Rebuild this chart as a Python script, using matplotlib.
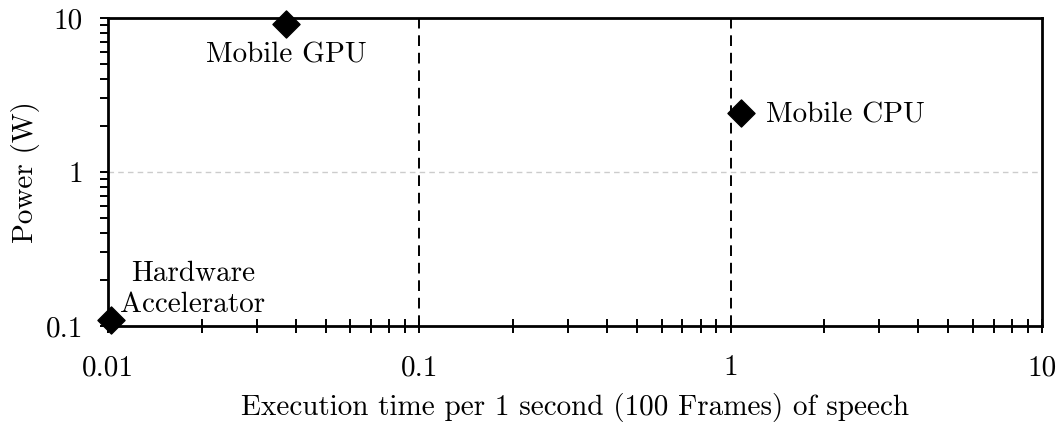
import matplotlib
matplotlib.use("Agg")
import matplotlib.pyplot as plt
from matplotlib.ticker import FixedLocator, FixedFormatter, LogLocator, NullFormatter

plt.rcParams['font.family'] = 'cmr10'
plt.rcParams['axes.formatter.use_mathtext'] = True

# execution time (s per 1 s of speech) and power (W)
devices = ['Mobile GPU', 'Mobile CPU', 'Hardware\nAccelerator']
exec_time = [0.0373, 1.08, 0.0102]
power = [9.15, 2.42, 0.109]

x_ticks = [0.01, 0.1, 1, 10]
x_labels = ['0.01', '0.1', '1', '10']
y_ticks = [0.1, 1, 10]
y_labels = ['0.1', '1', '10']

fs = 21

fig, ax = plt.subplots(figsize=(10.6, 4.26), dpi=100)
fig.subplots_adjust(left=0.102, right=0.983, top=0.958, bottom=0.235)

ax.set_xscale('log')
ax.set_yscale('log')
ax.set_xlim(0.01, 10)
ax.set_ylim(0.1, 10)

# decade guides
for xv in [0.1, 1]:
    ax.axvline(xv, color='black', linestyle=(0, (5.5, 3.5)), linewidth=1.4, zorder=1)
ax.axhline(1, color='#cccccc', linestyle=(0, (4, 3)), linewidth=1.0, zorder=1)

ax.scatter(exec_time, power, marker='D', s=190, color='black', zorder=5, clip_on=False)

ax.annotate(devices[0], (exec_time[0], power[0]), xytext=(0, -23), textcoords='offset points',
            ha='center', va='center', fontsize=fs)
ax.annotate(devices[1], (exec_time[1], power[1]), xytext=(18, -2), textcoords='offset points',
            ha='left', va='center', fontsize=fs)
ax.annotate(devices[2], (exec_time[2], power[2]), xytext=(59, 22), textcoords='offset points',
            ha='center', va='center', fontsize=fs, linespacing=1.25)

ax.xaxis.set_major_locator(FixedLocator(x_ticks))
ax.xaxis.set_major_formatter(FixedFormatter(x_labels))
ax.xaxis.set_minor_locator(LogLocator(base=10, subs=range(2, 10)))
ax.xaxis.set_minor_formatter(NullFormatter())
ax.yaxis.set_major_locator(FixedLocator(y_ticks))
ax.yaxis.set_major_formatter(FixedFormatter(y_labels))
ax.yaxis.set_minor_locator(LogLocator(base=10, subs=range(2, 10)))
ax.yaxis.set_minor_formatter(NullFormatter())

ax.tick_params(axis='x', which='both', direction='inout', length=10, width=1.4,
               labelsize=fs, pad=16)
ax.tick_params(axis='y', which='both', direction='out', length=6, width=1.4,
               labelsize=fs, pad=12)

for side in ['left', 'bottom', 'top', 'right']:
    ax.spines[side].set_linewidth(2.0)

ax.set_xlabel('Execution time per 1 second (100 Frames) of speech', fontsize=fs, labelpad=8)
ax.set_ylabel('Power (W)', fontsize=fs, labelpad=4)

fig.savefig('out.png', dpi=100)
